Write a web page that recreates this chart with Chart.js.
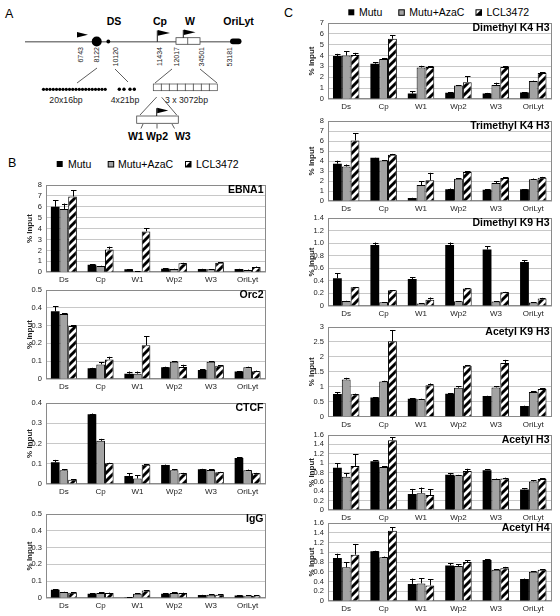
<!DOCTYPE html>
<html><head><meta charset="utf-8">
<script src="https://cdn.jsdelivr.net/npm/chart.js@4.4.0/dist/chart.umd.min.js"></script>
<style>
body{margin:0;background:#fff;width:560px;height:616px;overflow:hidden;position:relative;font-family:"Liberation Sans",Arial,sans-serif;}
canvas{position:absolute;}
svg{position:absolute;left:0;top:0;}
</style></head><body>
<svg id="art" width="560" height="616" font-family="Liberation Sans, Arial, sans-serif">
  <text x="5" y="18" font-size="12.5">A</text>
  <text x="8" y="167" font-size="12.5">B</text>
  <text x="284" y="17" font-size="12.5">C</text>
  <!-- panel A schematic -->
  <line x1="25" y1="41.7" x2="241" y2="41.7" stroke="#808080" stroke-width="1.4"/>
  <text x="114" y="25" font-size="10.5" font-weight="bold" text-anchor="middle">DS</text>
  <text x="160" y="25" font-size="10.5" font-weight="bold" text-anchor="middle">Cp</text>
  <text x="190" y="25" font-size="10.5" font-weight="bold" text-anchor="middle">W</text>
  <text x="238.5" y="25" font-size="10.5" font-weight="bold" text-anchor="middle">OriLyt</text>
  <polygon points="77,32 77,37.5 88,34.7" fill="#000"/>
  <circle cx="96.7" cy="41.5" r="5" fill="#000"/>
  <circle cx="108.3" cy="41.5" r="1.9" fill="#000"/>
  <line x1="157.3" y1="41.7" x2="157.3" y2="30.5" stroke="#000" stroke-width="0.9"/>
  <polygon points="157.8,30 157.8,35.8 170,33" fill="#000"/>
  <rect x="176" y="37.7" width="24" height="6.6" fill="#fff" stroke="#444" stroke-width="0.8"/>
  <line x1="187.7" y1="37.7" x2="187.7" y2="44.3" stroke="#444" stroke-width="0.8"/>
  <line x1="183.3" y1="37.7" x2="183.3" y2="30" stroke="#000" stroke-width="0.9"/>
  <polygon points="183.8,29.5 183.8,35 195.5,32.2" fill="#000"/>
  <rect x="230" y="38.4" width="11.5" height="5.8" rx="2.9" fill="#000"/>
  <g font-size="7" fill="#222">
    <text x="82.8" y="47" text-anchor="end" transform="rotate(-90 82.8 47)">6743</text>
    <text x="99.2" y="47" text-anchor="end" transform="rotate(-90 99.2 47)">8122</text>
    <text x="117.5" y="47" text-anchor="end" transform="rotate(-90 117.5 47)">10120</text>
    <text x="161.8" y="47" text-anchor="end" transform="rotate(-90 161.8 47)">11434</text>
    <text x="178.5" y="47" text-anchor="end" transform="rotate(-90 178.5 47)">12017</text>
    <text x="204.2" y="47" text-anchor="end" transform="rotate(-90 204.2 47)">34501</text>
    <text x="231.8" y="47" text-anchor="end" transform="rotate(-90 231.8 47)">53181</text>
  </g>
  <g stroke="#333" stroke-width="0.8">
    <line x1="97" y1="68" x2="77" y2="83"/>
    <line x1="115" y1="69" x2="128" y2="82"/>
    <line x1="172" y1="69" x2="155" y2="83"/>
    <line x1="200" y1="69" x2="217" y2="83"/>
    <line x1="156.7" y1="97" x2="140" y2="115"/>
    <line x1="161.7" y1="97.3" x2="176.7" y2="115"/>
  </g>
  <g id="dots20" fill="#000"></g>
  <g fill="#000">
    <circle cx="119.3" cy="89.3" r="1.7"/><circle cx="124" cy="89.3" r="1.7"/>
    <circle cx="130" cy="89.3" r="1.7"/><circle cx="134.3" cy="89.3" r="1.7"/>
  </g>
  <g id="rep" fill="#fff" stroke="#444" stroke-width="0.7"></g>
  <g font-size="8.7" fill="#222" text-anchor="middle">
    <text x="66" y="103">20x16bp</text>
    <text x="125" y="103">4x21bp</text>
    <text x="186.5" y="103">3 x 3072bp</text>
  </g>
  <rect x="136.7" y="116" width="41.6" height="7.3" fill="#fff" stroke="#444" stroke-width="0.8"/>
  <line x1="156.7" y1="116" x2="156.7" y2="108.2" stroke="#000" stroke-width="0.9"/>
  <polygon points="157.2,107.7 157.2,113.3 168.3,110.5" fill="#000"/>
  <g stroke="#333" stroke-width="0.8">
    <line x1="143" y1="124" x2="141" y2="128.5"/>
    <line x1="157" y1="124" x2="157" y2="128.5"/>
    <line x1="172" y1="124" x2="174.5" y2="128.5"/>
  </g>
  <g font-size="10.5" font-weight="bold" text-anchor="middle">
    <text x="135.8" y="139.5">W1</text>
    <text x="157" y="139.5">Wp2</text>
    <text x="182.8" y="139.5">W3</text>
  </g>
  <g id="legends"></g>
</svg>
<script>
// ---------- data ----------
const categories = ['Ds', 'Cp', 'W1', 'Wp2', 'W3', 'OriLyt'];
const seriesNames = ['Mutu', 'Mutu+AzaC', 'LCL3472'];

const ebna1Values = [[6.0, 0.7, 0.27, 0.33, 0.3, 0.3], [5.8, 0.58, 0.1, 0.3, 0.27, 0.2], [6.95, 2.1, 3.75, 0.82, 0.88, 0.48]];
const ebna1Errors = [[0.6, 0.02, 0.03, 0.02, 0.02, 0.02], [0.5, 0.02, 0.02, 0.02, 0.03, 0.05], [0.55, 0.25, 0.27, 0.05, 0.04, 0.05]];
const ebna1Ticks = ['0', '1', '2', '3', '4', '5', '6', '7', '8'];

const orc2Values = [[0.38, 0.06, 0.03, 0.066, 0.051, 0.042], [0.365, 0.082, 0.03, 0.097, 0.097, 0.066], [0.298, 0.11, 0.19, 0.068, 0.074, 0.044]];
const orc2Errors = [[0.03, 0.003, 0.012, 0.003, 0.003, 0.003], [0.003, 0.011, 0.012, 0.004, 0.004, 0.003], [0.003, 0.015, 0.05, 0.012, 0.003, 0.003]];
const orc2Ticks = ['0', '0.1', '0.2', '0.3', '0.4', '0.5'];

const ctcfValues = [[0.107, 0.345, 0.04, 0.094, 0.073, 0.129], [0.068, 0.213, 0.027, 0.068, 0.069, 0.068], [0.021, 0.103, 0.095, 0.053, 0.058, 0.053]];
const ctcfErrors = [[0.012, 0.003, 0.012, 0.002, 0.002, 0.003], [0.004, 0.01, 0.016, 0.006, 0.003, 0.003], [0.002, 0.002, 0.003, 0.002, 0.002, 0.002]];
const ctcfTicks = ['0', '0.1', '0.2', '0.3', '0.4'];

const iggValues = [[0.049, 0.025, 0.005, 0.025, 0.018, 0.015], [0.035, 0.03, 0.025, 0.03, 0.02, 0.014], [0.031, 0.03, 0.045, 0.03, 0.02, 0.014]];
const iggErrors = [[0.003, 0.002, 0.001, 0.002, 0.001, 0.001], [0.002, 0.003, 0.002, 0.003, 0.002, 0.001], [0.002, 0.002, 0.002, 0.002, 0.002, 0.001]];
const iggTicks = ['0', '0.1', '0.2', '0.3', '0.4', '0.5'];

const dimK4Values = [[3.96, 3.25, 0.5, 0.58, 0.5, 0.6], [4.0, 3.68, 2.9, 1.25, 1.3, 1.65], [4.05, 5.55, 2.95, 1.55, 2.95, 2.4]];
const dimK4Errors = [[0.2, 0.12, 0.2, 0.05, 0.06, 0.02], [0.4, 0.1, 0.16, 0.04, 0.2, 0.04], [0.2, 0.33, 0.06, 0.55, 0.08, 0.07]];
const dimK4Ticks = ['0', '1', '2', '3', '4', '5', '6', '7'];

const triK4Values = [[3.73, 4.33, 0.3, 1.17, 1.13, 1.17], [3.45, 4.05, 1.6, 2.23, 1.8, 2.17], [6.05, 4.63, 2.07, 2.9, 2.3, 2.33]];
const triK4Errors = [[0.3, 0.02, 0.02, 0.08, 0.03, 0.03], [0.2, 0.05, 0.4, 0.05, 0.2, 0.08], [0.75, 0.08, 0.75, 0.08, 0.08, 0.08]];
const triK4Ticks = ['0', '1', '2', '3', '4', '5', '6', '7', '8'];

const dimK9Values = [[0.44, 0.97, 0.43, 0.97, 0.9, 0.7], [0.08, 0.06, 0.04, 0.075, 0.07, 0.055], [0.3, 0.25, 0.1, 0.28, 0.22, 0.12]];
const dimK9Errors = [[0.08, 0.04, 0.03, 0.04, 0.05, 0.025], [0.003, 0.003, 0.003, 0.003, 0.003, 0.003], [0.003, 0.003, 0.035, 0.005, 0.005, 0.01]];
const dimK9Ticks = ['0', '0.2', '0.4', '0.6', '0.8', '1.0', '1.2', '1.4'];

const acK9Values = [[0.76, 0.64, 0.6, 0.77, 0.69, 0.36], [1.24, 1.18, 0.58, 0.97, 0.98, 0.83], [0.75, 2.52, 1.05, 1.7, 1.8, 0.93]];
const acK9Errors = [[0.05, 0.01, 0.02, 0.02, 0.01, 0.01], [0.06, 0.02, 0.02, 0.05, 0.04, 0.02], [0.02, 0.38, 0.06, 0.03, 0.1, 0.03]];
const acK9Ticks = ['0', '0.5', '1', '1.5', '2', '2.5', '3'];

const acH3Values = [[0.9, 1.04, 0.34, 0.75, 0.85, 0.44], [0.71, 0.92, 0.36, 0.74, 0.66, 0.61], [0.94, 1.49, 0.32, 0.83, 0.67, 0.66]];
const acH3Errors = [[0.1, 0.02, 0.11, 0.04, 0.02, 0.02], [0.07, 0.01, 0.12, 0.01, 0.01, 0.02], [0.25, 0.06, 0.12, 0.05, 0.02, 0.02]];
const acH3Ticks = ['0', '0.2', '0.4', '0.6', '0.8', '1', '1.2', '1.4', '1.6'];

const acH4Values = [[0.88, 1.02, 0.35, 0.73, 0.84, 0.45], [0.69, 0.9, 0.36, 0.72, 0.64, 0.6], [0.95, 1.44, 0.32, 0.8, 0.67, 0.64]];
const acH4Errors = [[0.09, 0.01, 0.11, 0.05, 0.02, 0.01], [0.1, 0.01, 0.11, 0.03, 0.01, 0.01], [0.22, 0.07, 0.13, 0.04, 0.03, 0.01]];
const acH4Ticks = ['0', '0.2', '0.4', '0.6', '0.8', '1', '1.2', '1.4', '1.6'];

// ---------- schematic helpers ----------
const NS = 'http://www.w3.org/2000/svg';
(function () {
  const g = document.getElementById('dots20');
  for (let i = 0; i < 20; i++) {
    const c = document.createElementNS(NS, 'circle');
    c.setAttribute('cx', 43.5 + i * 3.25); c.setAttribute('cy', 89.3); c.setAttribute('r', 1.6);
    g.appendChild(c);
  }
  const r = document.getElementById('rep');
  for (let i = 0; i < 8; i++) {
    const e = document.createElementNS(NS, 'rect');
    e.setAttribute('x', 153.3 + i * 8); e.setAttribute('y', 84); e.setAttribute('width', 8); e.setAttribute('height', 6.7);
    r.appendChild(e);
  }
  // legends
  const lg = document.getElementById('legends');
  function legend(boxXs, textXs, cy) {
    seriesNames.forEach((n, k) => {
      const x = boxXs[k], y = cy - 3;
      if (k === 2) {
        const b = document.createElementNS(NS, 'rect');
        b.setAttribute('x', x + 0.5); b.setAttribute('y', y + 0.5); b.setAttribute('width', 5.5); b.setAttribute('height', 5.5);
        b.setAttribute('fill', '#fff'); b.setAttribute('stroke', '#000'); b.setAttribute('stroke-width', '1');
        lg.appendChild(b);
        const t = document.createElementNS(NS, 'polygon');
        t.setAttribute('points', `${x + 6},${y} ${x + 6},${y + 6} ${x},${y + 6}`);
        t.setAttribute('fill', '#000'); lg.appendChild(t);
      } else {
        const b = document.createElementNS(NS, 'rect');
        b.setAttribute('x', x + (k ? 0.5 : 0)); b.setAttribute('y', y + (k ? 0.5 : 0));
        b.setAttribute('width', k ? 5.5 : 6); b.setAttribute('height', k ? 5.5 : 6);
        b.setAttribute('fill', k ? '#a3a3a3' : '#000');
        if (k) { b.setAttribute('stroke', '#000'); b.setAttribute('stroke-width', '1'); }
        lg.appendChild(b);
      }
      const tx = document.createElementNS(NS, 'text');
      tx.setAttribute('x', textXs[k]); tx.setAttribute('y', cy + 3.8); tx.setAttribute('font-size', '10.5');
      tx.textContent = n; lg.appendChild(tx);
    });
  }
  legend([56.7, 107.7, 185], [68, 118, 196], 164);
  legend([348.3, 398.3, 475.5], [359, 409.3, 486.5], 12.3);
})();

// ---------- charts ----------
Chart.defaults.font.family = '"Liberation Sans", Arial, sans-serif';

function hatch() {
  const p = document.createElement('canvas'); p.width = 8; p.height = 8;
  const c = p.getContext('2d');
  c.fillStyle = '#fff'; c.fillRect(0, 0, 8, 8);
  c.strokeStyle = '#000'; c.lineWidth = 2.9; c.beginPath();
  c.moveTo(-2, 10); c.lineTo(10, -2);
  c.moveTo(-2, 2); c.lineTo(2, -2);
  c.moveTo(6, 10); c.lineTo(10, 6);
  c.stroke();
  return document.createElement('canvas').getContext('2d').createPattern(p, 'repeat');
}
const hatchPattern = hatch();

const framePlugin = {
  id: 'frame',
  beforeDatasetsDraw(chart) {
    const a = chart.chartArea, ctx = chart.ctx;
    ctx.save(); ctx.strokeStyle = '#8a8a8a'; ctx.lineWidth = 1;
    const l = Math.round(a.left) + 0.5, t = Math.round(a.top) + 0.5, r = Math.round(a.right) - 0.5, b = Math.round(a.bottom) - 0.5;
    ctx.strokeRect(l, t, r - l, b - t);
    ctx.restore();
  }
};
const errPlugin = {
  id: 'errbars',
  afterDatasetsDraw(chart) {
    const ctx = chart.ctx, ys = chart.scales.y;
    ctx.save(); ctx.strokeStyle = '#000'; ctx.lineWidth = 1;
    chart.data.datasets.forEach((ds, i) => {
      const meta = chart.getDatasetMeta(i);
      meta.data.forEach((bar, j) => {
        const e = ds.errors[j]; if (!e) return;
        const y0 = ys.getPixelForValue(ds.data[j]);
        const y1 = ys.getPixelForValue(ds.data[j] + e);
        const x = Math.round(bar.x) + 0.5;
        ctx.beginPath();
        ctx.moveTo(x, y0); ctx.lineTo(x, y1);
        ctx.moveTo(x - 2.5, Math.round(y1) + 0.5); ctx.lineTo(x + 3, Math.round(y1) + 0.5);
        ctx.stroke();
      });
    });
    ctx.restore();
  }
};

function buildChart(c) {
  const colLeft = c.col === 0 ? 0 : 280;
  const left = c.col === 0 ? 45.5 : 327.5;
  const right = c.col === 0 ? 266 : 552;
  const titleCenter = c.col === 0 ? 29.7 : 311.8;
  const cvTop = Math.floor(c.top) - 8;
  const padTop = c.top - cvTop;
  const W = Math.ceil(right - colLeft + 4);
  const padR = W - (right - colLeft);
  const H = Math.ceil(c.bottom - cvTop + 16);
  const xH = H - (c.bottom - cvTop);
  const padL = titleCenter - colLeft - 4.8;
  const yW = left - colLeft - padL;
  const cv = document.createElement('canvas');
  cv.width = W; cv.height = H;
  cv.style.left = colLeft + 'px'; cv.style.top = cvTop + 'px';
  document.body.appendChild(cv);
  const titlePlugin = {
    id: 'innerTitle',
    afterDraw(chart) {
      const ctx = chart.ctx, a = chart.chartArea;
      ctx.save(); ctx.font = 'bold 10.5px "Liberation Sans", Arial, sans-serif';
      ctx.fillStyle = '#000'; ctx.textAlign = 'right'; ctx.textBaseline = 'top';
      ctx.fillText(c.title, a.right - 2.5, a.top - 0.5);
      ctx.restore();
    }
  };
  new Chart(cv, {
    type: 'bar',
    data: {
      labels: categories,
      datasets: seriesNames.map((n, k) => ({
        label: n, data: c.values[k], errors: c.errors[k],
        backgroundColor: ['#000', '#a3a3a3', hatchPattern][k],
        borderColor: '#000', borderWidth: k === 0 ? 0 : 1,
        categoryPercentage: 0.707, barPercentage: 1
      }))
    },
    options: {
      responsive: false, animation: false, devicePixelRatio: 1,
      layout: { padding: { left: padL, right: padR, top: padTop, bottom: 0 } },
      plugins: { legend: { display: false }, tooltip: { enabled: false } },
      scales: {
        x: {
          grid: { display: false, drawTicks: false }, border: { display: false },
          ticks: { font: { size: 8 }, color: '#222', padding: 3, maxRotation: 0, autoSkip: false },
          afterFit(s) { s.height = xH; }
        },
        y: {
          min: 0, max: c.max,
          grid: { color: '#c8c8c8', drawTicks: false, lineWidth: 1 }, border: { display: false },
          ticks: { stepSize: c.step, autoSkip: false, font: { size: 7.5 }, color: '#222', padding: 3.5,
            callback: (v) => c.ticks[Math.round(v / c.step)] },
          title: { display: true, text: '% Input', font: { size: 8, weight: 'bold' }, color: '#222', padding: 0 },
          afterFit(s) { s.width = yW; }
        }
      }
    },
    plugins: [framePlugin, errPlugin, titlePlugin]
  });
}

buildChart({ col: 0, top: 185, bottom: 272.3, max: 8, step: 1, ticks: ebna1Ticks, values: ebna1Values, errors: ebna1Errors, title: 'EBNA1' });
buildChart({ col: 0, top: 290, bottom: 379, max: 0.5, step: 0.1, ticks: orc2Ticks, values: orc2Values, errors: orc2Errors, title: 'Orc2' });
buildChart({ col: 0, top: 403, bottom: 484, max: 0.4, step: 0.1, ticks: ctcfTicks, values: ctcfValues, errors: ctcfErrors, title: 'CTCF' });
buildChart({ col: 0, top: 514, bottom: 598, max: 0.5, step: 0.1, ticks: iggTicks, values: iggValues, errors: iggErrors, title: 'IgG' });

buildChart({ col: 1, top: 23, bottom: 99, max: 7, step: 1, ticks: dimK4Ticks, values: dimK4Values, errors: dimK4Errors, title: 'Dimethyl K4 H3' });
buildChart({ col: 1, top: 121, bottom: 201, max: 8, step: 1, ticks: triK4Ticks, values: triK4Values, errors: triK4Errors, title: 'Trimethyl K4 H3' });
buildChart({ col: 1, top: 218, bottom: 306, max: 1.4, step: 0.2, ticks: dimK9Ticks, values: dimK9Values, errors: dimK9Errors, title: 'Dimethyl K9 H3' });
buildChart({ col: 1, top: 327, bottom: 416.7, max: 3, step: 0.5, ticks: acK9Ticks, values: acK9Values, errors: acK9Errors, title: 'Acetyl K9 H3' });
buildChart({ col: 1, top: 435, bottom: 510, max: 1.6, step: 0.2, ticks: acH3Ticks, values: acH3Values, errors: acH3Errors, title: 'Acetyl H3' });
buildChart({ col: 1, top: 523, bottom: 601, max: 1.6, step: 0.2, ticks: acH4Ticks, values: acH4Values, errors: acH4Errors, title: 'Acetyl H4' });
</script>
</body></html>
